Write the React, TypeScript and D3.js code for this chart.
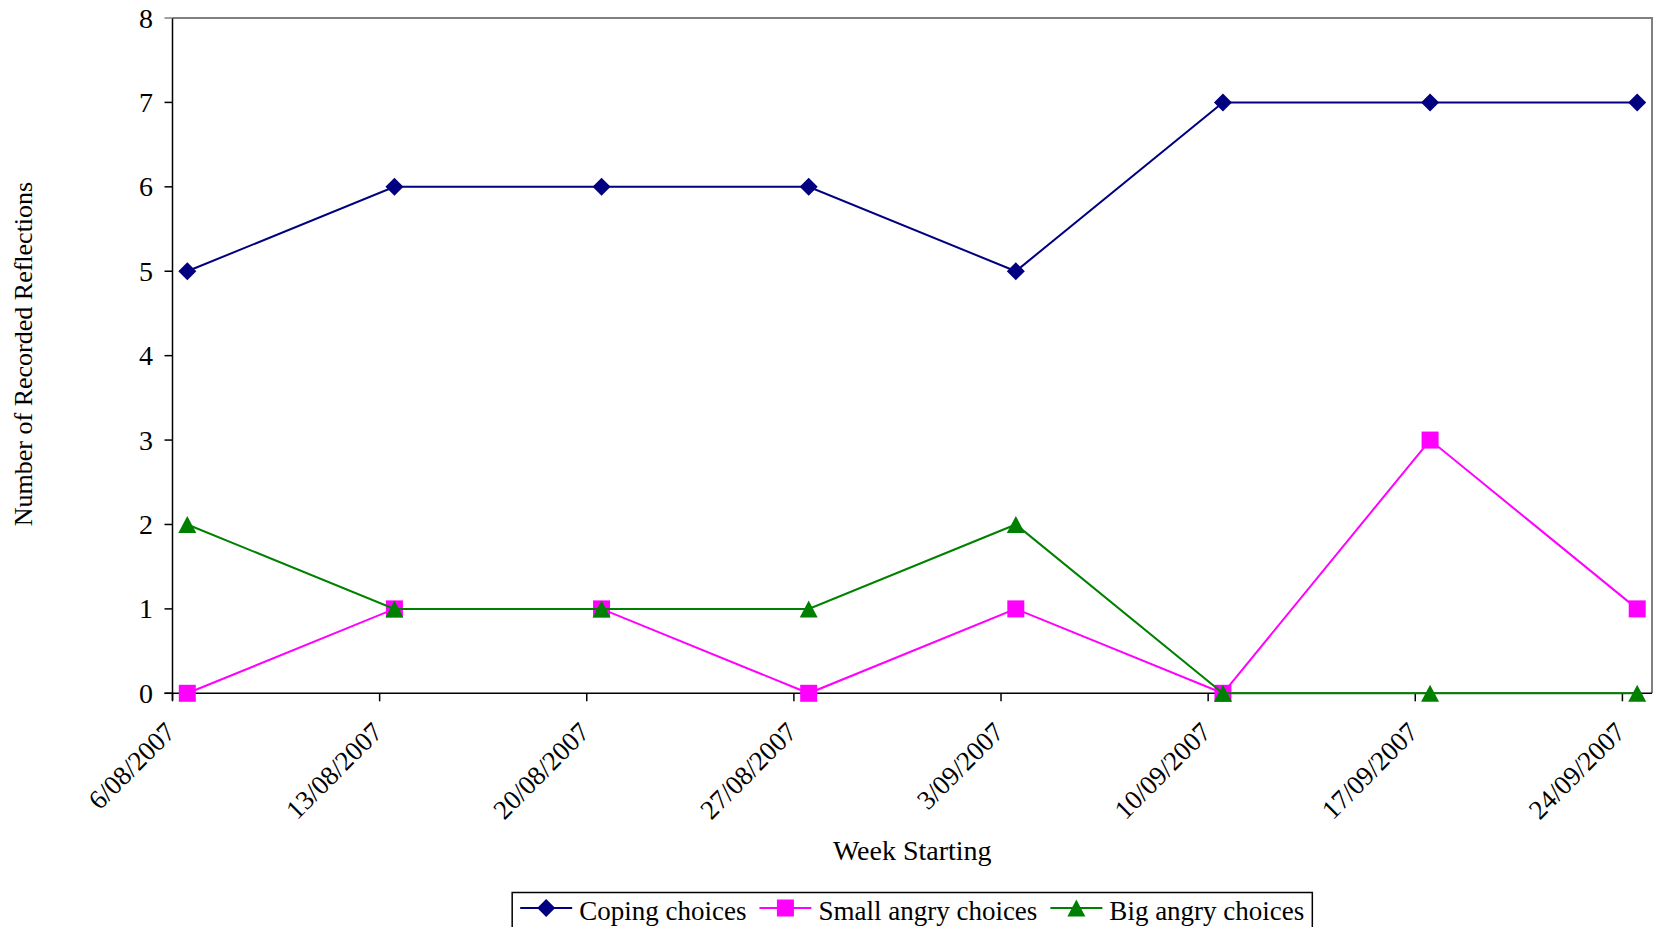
import React, { useEffect, useRef } from "react";
import * as d3 from "d3";

// Weekly counts of recorded reflections
const weekStarts = [
  "2007-08-06", "2007-08-13", "2007-08-20", "2007-08-27",
  "2007-09-03", "2007-09-10", "2007-09-17", "2007-09-24",
];
const copingChoices = [5, 6, 6, 6, 5, 7, 7, 7];
const smallAngryChoices = [0, 1, 1, 0, 1, 0, 3, 1];
const bigAngryChoices = [2, 1, 1, 1, 2, 0, 0, 0];
const yTicks = [0, 1, 2, 3, 4, 5, 6, 7, 8];

const seriesList = [
  { name: "Coping choices", values: copingChoices, color: "#000080", marker: "diamond" },
  { name: "Small angry choices", values: smallAngryChoices, color: "#FF00FF", marker: "square" },
  { name: "Big angry choices", values: bigAngryChoices, color: "#008000", marker: "triangle" },
];

const W = 1654;
const H = 927;
const FONT = "'Liberation Serif', 'Times New Roman', serif";

const parse = d3.utcParse("%Y-%m-%d");
const fmt = (d: Date) => `${d.getUTCDate()}/${String(d.getUTCMonth() + 1).padStart(2, "0")}/${d.getUTCFullYear()}`;

function markerPath(kind: string): string {
  if (kind === "diamond") return "M0,-9L9,0L0,9L-9,0Z";
  if (kind === "square") return "M-8.5,-8.5H8.5V8.5H-8.5Z";
  return "M0,-8.5L9,8.5L-9,8.5Z";
}

export default function App() {
  const ref = useRef<SVGSVGElement>(null);

  useEffect(() => {
    const svg = d3.select(ref.current);
    svg.selectAll("*").remove();

    const left = 172.5, right = 1652, top = 18, bottom = 693.3;
    const dates = weekStarts.map((s) => parse(s) as Date);
    const x = d3
      .scaleUtc()
      .domain([dates[0], d3.utcDay.offset(dates[dates.length - 1], 1)])
      .range([left, right]);
    const y = d3.scaleLinear().domain([0, 8]).range([bottom, top]);
    // values sit in the middle of their day
    const px = (d: Date) => x(d3.utcHour.offset(d, 12));

    const g = svg.append("g");

    // frame: grey top and right edges
    g.append("path")
      .attr("d", `M${left},${top}H${right}V${bottom}`)
      .attr("fill", "none")
      .attr("stroke", "#808080")
      .attr("stroke-width", 2);

    // y axis
    g.append("line")
      .attr("x1", left).attr("x2", left)
      .attr("y1", top).attr("y2", bottom + 7)
      .attr("stroke", "#000").attr("stroke-width", 1.5);
    yTicks.forEach((t) => {
      g.append("line")
        .attr("x1", left - 8).attr("x2", left)
        .attr("y1", y(t)).attr("y2", y(t))
        .attr("stroke", t === 8 ? "#808080" : "#000").attr("stroke-width", 1.5);
      g.append("text")
        .attr("x", 153).attr("y", y(t))
        .attr("text-anchor", "end")
        .attr("dominant-baseline", "central")
        .attr("font-family", FONT).attr("font-size", 28)
        .attr("fill", "#000")
        .text(String(t));
    });

    // x axis
    g.append("line")
      .attr("x1", left - 8).attr("x2", right)
      .attr("y1", bottom).attr("y2", bottom)
      .attr("stroke", "#000").attr("stroke-width", 1.5);
    dates.forEach((d) => {
      const tx = x(d);
      g.append("line")
        .attr("x1", tx).attr("x2", tx)
        .attr("y1", bottom).attr("y2", bottom + 8)
        .attr("stroke", "#000").attr("stroke-width", 1.5);
      g.append("text")
        .attr("transform", `translate(${tx - 2},${bottom + 34}) rotate(-45)`)
        .attr("text-anchor", "end")
        .attr("dominant-baseline", "central")
        .attr("font-family", FONT).attr("font-size", 27)
        .attr("fill", "#000")
        .text(fmt(d));
    });

    // axis titles
    g.append("text")
      .attr("x", (left + right) / 2).attr("y", 860)
      .attr("text-anchor", "middle")
      .attr("font-family", FONT).attr("font-size", 28)
      .text("Week Starting");
    g.append("text")
      .attr("transform", `translate(32,354) rotate(-90)`)
      .attr("text-anchor", "middle")
      .attr("font-family", FONT).attr("font-size", 26)
      .text("Number of Recorded Reflections");

    // series
    const line = d3
      .line<number>()
      .x((_, i) => px(dates[i]))
      .y((v) => y(v));
    seriesList.forEach((s) => {
      const sg = g.append("g");
      sg.append("path")
        .attr("d", line(s.values) as string)
        .attr("fill", "none")
        .attr("stroke", s.color)
        .attr("stroke-width", 2);
      s.values.forEach((v, i) => {
        sg.append("path")
          .attr("d", markerPath(s.marker))
          .attr("transform", `translate(${px(dates[i])},${y(v)})`)
          .attr("fill", s.color);
      });
    });

    // legend
    const lg = g.append("g");
    const box = lg.append("rect")
      .attr("fill", "#fff").attr("stroke", "#000").attr("stroke-width", 1.5);
    const items: { w: number }[] = [];
    const itemGroups: any[] = [];
    seriesList.forEach((s) => {
      const ig = lg.append("g");
      ig.append("line")
        .attr("x1", 0).attr("x2", 52).attr("y1", 0).attr("y2", 0)
        .attr("stroke", s.color).attr("stroke-width", 2);
      ig.append("path")
        .attr("d", markerPath(s.marker))
        .attr("transform", "translate(26,0)")
        .attr("fill", s.color);
      const t = ig.append("text")
        .attr("x", 59).attr("y", 12)
        .attr("font-family", FONT).attr("font-size", 27)
        .text(s.name);
      const tw = (t.node() as SVGTextElement).getComputedTextLength();
      items.push({ w: 59 + tw });
      itemGroups.push(ig);
    });
    const gap = 13;
    const totalW = d3.sum(items, (d) => d.w) + gap * (items.length - 1);
    const pad = 8;
    const boxW = totalW + pad * 2;
    const boxX = (left + right) / 2 - boxW / 2;
    box.attr("x", boxX).attr("y", 892.5).attr("width", boxW).attr("height", 60);
    let off = 0;
    itemGroups.forEach((ig, i) => {
      ig.attr("transform", `translate(${boxX + pad + off},908)`);
      off += items[i].w + gap;
    });
  }, []);

  return (
    <svg
      ref={ref}
      width={W}
      height={H}
      style={{ position: "absolute", left: 0, top: 0, display: "block", background: "#fff" }}
    />
  );
}
